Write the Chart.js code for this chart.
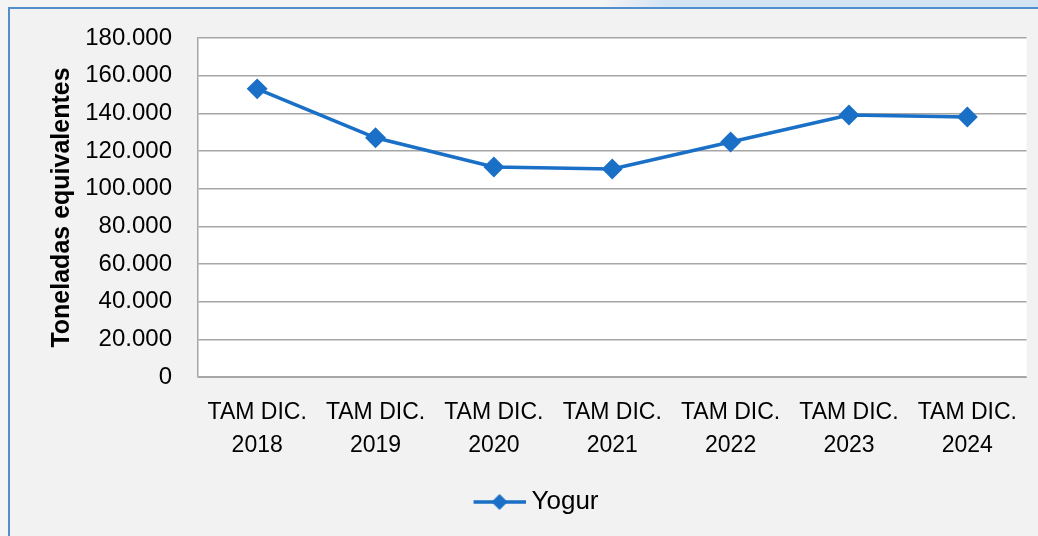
<!DOCTYPE html>
<html>
<head>
<meta charset="utf-8">
<script src="https://cdn.jsdelivr.net/npm/chart.js@4.4.1/dist/chart.umd.min.js"></script>
<style>
    html, body { margin: 0; padding: 0; }
    body {
        width: 1038px; height: 536px; overflow: hidden; position: relative;
        background: linear-gradient(90deg, #f4f4f4 0%, #f4f4f4 58%, #d3e4f4 64%, #d3e4f4 100%);
    }
    #box {
        position: absolute; left: 8px; top: 7px; right: 0; bottom: 0;
        background: #f2f2f2;
        border-left: 2px solid #4f8fd0;
        border-top: 2px solid #4f8fd0;
    }
    #wrap { position: absolute; left: 0; top: 0; width: 1038px; height: 536px; }
</style>
</head>
<body>
<div id="box"></div>
<div id="wrap"><canvas id="yogurChart" width="1038" height="536"></canvas></div>
<script>
var categories = [
    ['TAM DIC.', '2018'], ['TAM DIC.', '2019'], ['TAM DIC.', '2020'], ['TAM DIC.', '2021'],
    ['TAM DIC.', '2022'], ['TAM DIC.', '2023'], ['TAM DIC.', '2024']
];
var yogur = [153000, 127000, 111500, 110400, 124800, 139100, 138100];
var yTicks = [0, 20000, 40000, 60000, 80000, 100000, 120000, 140000, 160000, 180000];

var blue = '#1a6fc6';
var font = "'Liberation Sans', Arial, sans-serif";

function fmt(v) {
    return String(v).replace(/\B(?=(\d{3})+(?!\d))/g, '.');
}

// legend marker: line with diamond (left half left empty so the legend sits right of centre like the original)
var marker = document.createElement('canvas');
marker.width = 104; marker.height = 20;
var mc = marker.getContext('2d');
mc.strokeStyle = blue; mc.lineWidth = 3.5;
mc.beginPath(); mc.moveTo(52, 10); mc.lineTo(104, 10); mc.stroke();
mc.fillStyle = blue;
mc.beginPath(); mc.moveTo(78, 2); mc.lineTo(86, 10); mc.lineTo(78, 18); mc.lineTo(70, 10); mc.closePath(); mc.fill();

var plotBg = {
    id: 'plotBg',
    beforeDraw: function (chart) {
        var a = chart.chartArea, ctx = chart.ctx;
        ctx.save();
        ctx.fillStyle = '#ffffff';
        ctx.fillRect(a.left, a.top, a.right - a.left, a.bottom - a.top);
        ctx.restore();
    }
};

var ctx = document.getElementById('yogurChart');
var yogurChart = new Chart(ctx, {
    type: 'line',
    data: {
        labels: categories,
        datasets: [{
            label: 'Yogur',
            data: yogur,
            borderColor: blue,
            backgroundColor: blue,
            borderWidth: 3.5,
            pointStyle: 'rectRot',
            pointRadius: 8,
            pointHoverRadius: 8,
            tension: 0
        }]
    },
    options: {
        responsive: false,
        animation: false,
        layout: { padding: { top: 38, right: 11, left: 0, bottom: 11 } },
        plugins: {
            tooltip: { enabled: false },
            legend: {
                position: 'bottom',
                labels: {
                    usePointStyle: true,
                    pointStyle: marker,
                    pointStyleWidth: 90,
                    color: '#000',
                    font: { family: font, size: 26 },
                    padding: 12
                }
            }
        },
        scales: {
            x: {
                offset: true,
                grid: { display: false, drawTicks: false },
                border: { color: '#a6a6a6', width: 1 },
                ticks: {
                    color: '#000',
                    maxRotation: 0,
                    autoSkip: false,
                    padding: 20,
                    font: { family: font, size: 23, lineHeight: 1.4 }
                },
                afterFit: function (scale) { scale.height = 100; }
            },
            y: {
                min: 0,
                max: 180000,
                afterBuildTicks: function (scale) {
                    scale.ticks = yTicks.map(function (v) { return { value: v }; });
                },
                grid: { color: '#a6a6a6', lineWidth: 1.5, drawTicks: false },
                border: { color: '#a6a6a6', width: 1.5 },
                ticks: {
                    color: '#000',
                    padding: 26,
                    font: { family: font, size: 24 },
                    callback: function (v) { return fmt(v); }
                },
                title: {
                    display: true,
                    text: 'Toneladas equivalentes',
                    color: '#000',
                    font: { family: font, size: 25, weight: 'bold' },
                    padding: { top: 47, bottom: 0 }
                },
                afterFit: function (scale) {
                    scale.width = 198;
                    scale.paddingTop = 0;
                    scale.paddingBottom = 0;
                }
            }
        }
    },
    plugins: [plotBg]
});
</script>
</body>
</html>
